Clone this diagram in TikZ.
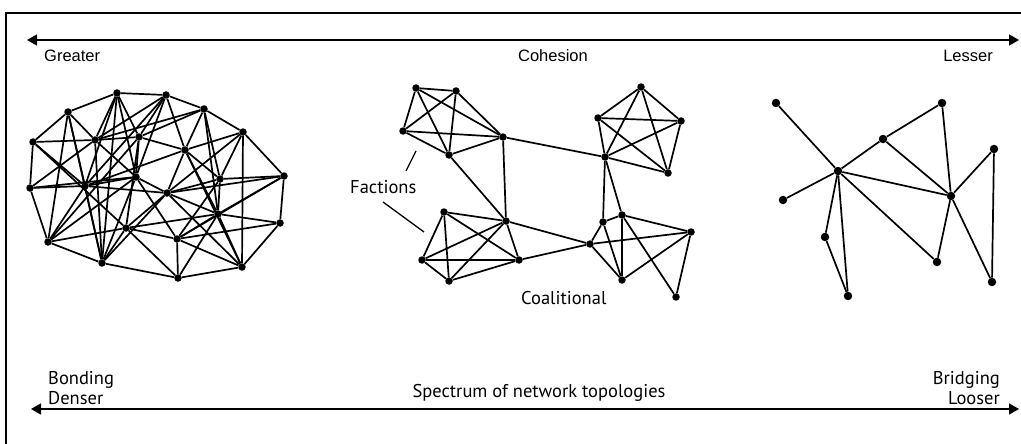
\documentclass[tikz,border=0pt]{standalone}
\usepackage{fontspec}
\setmainfont{PT Sans}
\newfontfamily\topfont{Liberation Sans}
\usetikzlibrary{arrows.meta}
\begin{document}
\begin{tikzpicture}[x=1pt,y=-1pt,
  dot/.style={circle,fill=black,inner sep=0pt,minimum size=7.5pt},
  bigdot/.style={circle,fill=black,inner sep=0pt,minimum size=8.5pt},
  edge/.style={line width=1.7pt,black},
  axis/.style={line width=1.7pt,{Triangle[length=10pt,width=11pt]}-{Triangle[length=10pt,width=11pt]}},
  lbl/.style={inner sep=0pt,font=\fontsize{18.5}{20}\selectfont},
  tlbl/.style={inner sep=0pt,font=\topfont\fontsize{16.5}{18}\selectfont}]
\useasboundingbox (0,0) rectangle (1021,444);
\fill[white] (0,0) rectangle (1021,444);
% frame
\draw[line width=1.2pt] (6,444) -- (6,13) -- (1021,13);
% axes
\coordinate (tl) at (27,40);
\coordinate (tr) at (1019,40);
\draw[axis] (tl) -- (tr);
\coordinate (bl) at (31,409);
\coordinate (br) at (1019,409);
\draw[axis] (bl) -- (br);
% labels
\node[tlbl,anchor=base west] (greater) at (44,62) {Greater};
\node[tlbl,anchor=base] (cohesion) at (553,62) {Cohesion};
\node[tlbl,anchor=base east] (lesser) at (993,62) {Lesser};
\node[lbl,anchor=base west] (bonding) at (48,384) {Bonding};
\node[lbl,anchor=base west] (denser) at (48,404) {Denser};
\node[lbl,anchor=base] (spectrum) at (539,397) {Spectrum of network topologies};
\node[lbl,anchor=base east] (bridging) at (1000,384) {Bridging};
\node[lbl,anchor=base east] (looser) at (1000,404) {Looser};
\node[lbl,anchor=base west] (factions) at (350,193) {Factions};
\node[lbl,anchor=base west] (coal) at (521,304) {Coalitional};
% ---------- left dense network ----------
\foreach \n/\x/\y in {1/117/93,2/166/95,3/68/112,4/204/109,5/243/132,6/33/142,7/95/140,8/139/137,
  9/185/150,10/30/188,11/85/186,12/136/177,13/220/179,14/284/176,15/167/193,16/218/214,
  17/280/223,18/126/228,19/48/242,20/177/239,21/102/263,22/242/267,23/178/278}
  \node[dot] (L\n) at (\x,\y) {};
\foreach \a/\b in {1/2,2/4,4/5,5/14,14/17,17/22,22/23,23/21,21/19,19/10,10/6,6/3,3/1,
  1/7,1/8,1/12,1/21,1/11,
  2/7,2/9,2/8,2/12,2/11,
  3/7,3/11,3/19,3/21,
  4/9,4/13,4/7,4/8,4/16,
  5/9,5/13,5/22,5/15,
  6/11,6/18,6/7,
  7/8,7/10,7/21,7/12,
  8/12,8/18,8/9,8/19,
  9/15,9/11,9/16,9/22,9/13,
  10/11,10/12,
  11/12,11/21,11/19,11/15,
  12/15,12/19,12/21,12/20,
  13/14,13/16,13/15,13/20,
  14/16,14/20,14/15,
  15/16,15/22,15/18,15/21,
  16/17,16/22,16/20,16/23,16/18,
  17/20,
  18/19,18/21,18/23,18/20,
  20/23,20/22}
  \draw[edge] (L\a) -- (L\b);
% ---------- middle coalitional network ----------
\foreach \n/\x/\y in {1/416/88,2/456/91,3/403/131,4/503/137,5/449/155,
  6/444/212,7/506/221,8/422/260,9/519/260,10/449/281}
  \node[dot] (M\n) at (\x,\y) {};
\foreach \n/\x/\y in {1/641/87,2/598/118,3/681/121,4/605/157,5/668/173,
  6/603/222,7/622/215,8/590/244,9/691/232,10/622/280,11/676/297}
  \node[dot] (R\n) at (\x,\y) {};
\foreach \a/\b in {1/2,1/3,1/4,1/5,2/3,2/4,2/5,3/4,3/5,4/5,
  6/7,6/8,6/9,6/10,7/8,7/9,7/10,8/9,8/10,9/10,4/7,5/7}
  \draw[edge] (M\a) -- (M\b);
\foreach \a/\b in {1/2,1/3,1/4,1/5,2/3,2/4,2/5,3/4,3/5,4/5,
  4/6,4/7,6/7,6/8,6/10,7/10,7/9,7/11,8/9,8/10,10/9,9/11}
  \draw[edge] (R\a) -- (R\b);
\draw[edge] (M4) -- (R4);
\draw[edge] (M7) -- (R8);
\draw[edge] (M9) -- (R8);
% Factions leaders
\coordinate (fa1) at (406,171);
\coordinate (fa2) at (416,151);
\draw[line width=1.3pt] (fa1) -- (fa2);
\coordinate (fb1) at (383,202);
\coordinate (fb2) at (424,232);
\draw[line width=1.3pt] (fb1) -- (fb2);
% ---------- right loose network ----------
\foreach \n/\x/\y in {1/776/103,2/883/139,3/838/171,4/783/200,5/825/237,6/848/296,
  7/942/103,8/994/149,9/951/196,10/937/262,11/992/282}
  \node[bigdot] (T\n) at (\x,\y) {};
\foreach \a/\b in {1/3,3/2,3/4,3/5,3/6,5/6,3/9,3/10,2/7,2/9,7/9,9/8,9/10,9/11,8/11}
  \draw[edge] (T\a) -- (T\b);
\end{tikzpicture}
\end{document}
